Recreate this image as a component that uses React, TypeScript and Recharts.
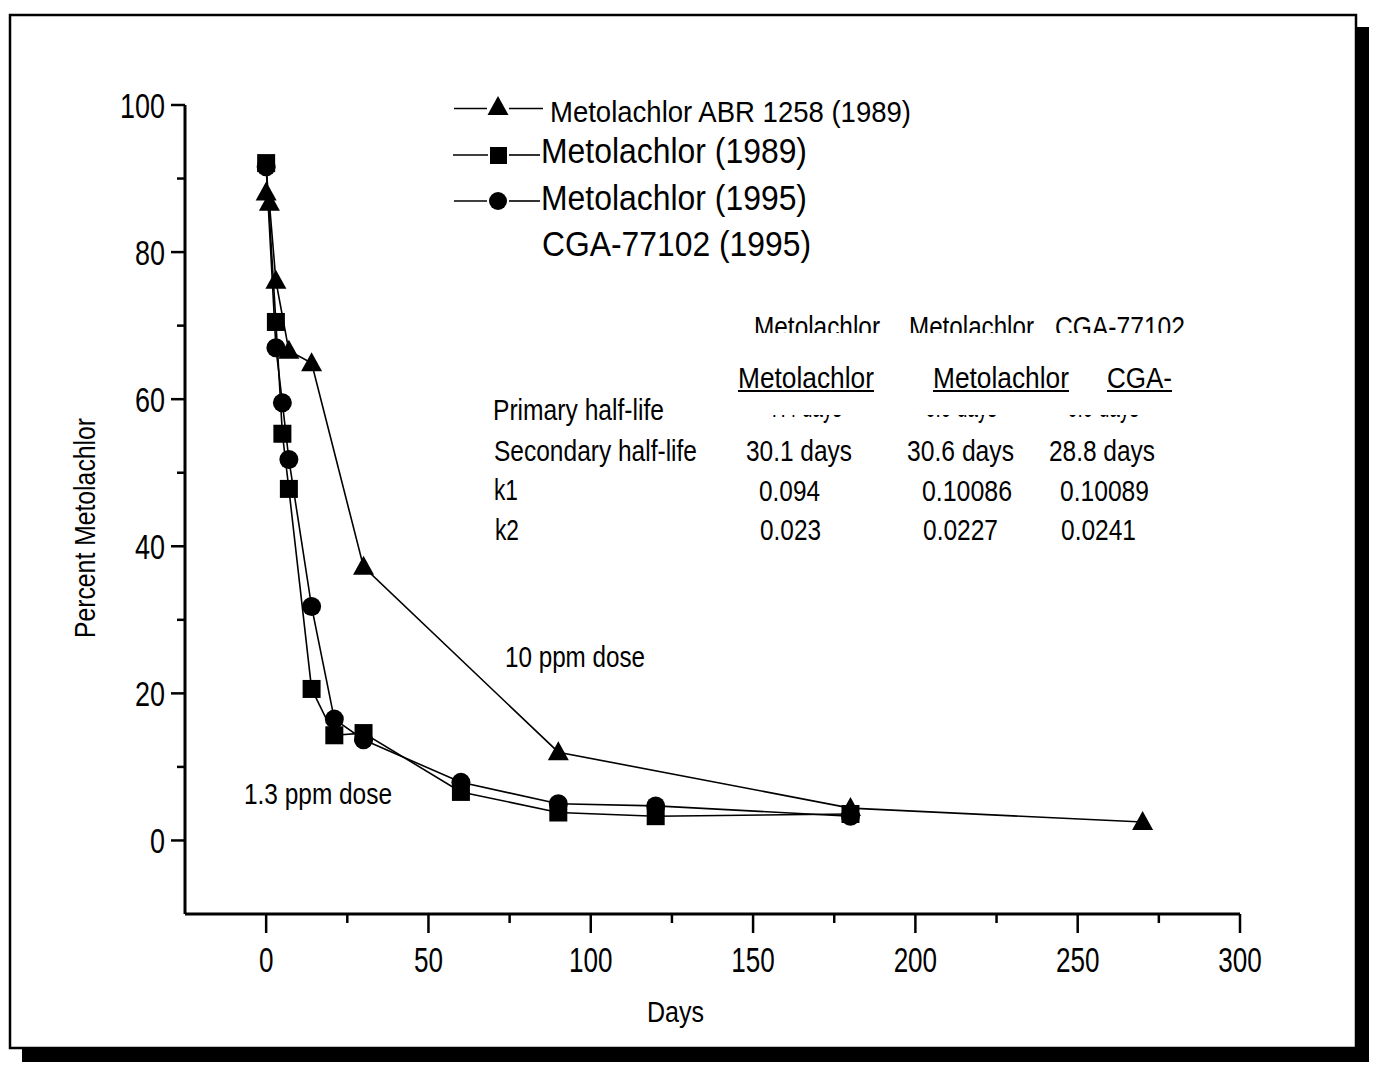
import React from 'react';
import { LineChart, Line, XAxis, YAxis } from 'recharts';

// ---------- data ----------
const abrDays = [0, 1, 3, 7, 14, 30, 90, 180, 270];
const abrPct = [88.1, 86.7, 76.1, 66.6, 64.9, 37.2, 12.0, 4.4, 2.5];

const met89Days = [0, 3, 5, 7, 14, 21, 30, 60, 90, 120, 180];
const met89Pct = [92.1, 70.5, 55.3, 47.8, 20.6, 14.3, 14.6, 6.6, 3.8, 3.3, 3.6];

const met95Days = [0, 3, 5, 7, 14, 21, 30, 60, 90, 120, 180];
const met95Pct = [91.6, 67.0, 59.5, 51.8, 31.8, 16.5, 13.7, 7.9, 5.0, 4.7, 3.3];

const xTicks = [-25, 0, 25, 50, 75, 100, 125, 150, 175, 200, 225, 250, 275, 300];
const yTicks = [-10, 0, 10, 20, 30, 40, 50, 60, 70, 80, 90, 100];

const legendLabels = [
  'Metolachlor ABR 1258 (1989)',
  'Metolachlor (1989)',
  'Metolachlor (1995)',
  'CGA-77102 (1995)',
];
const tableHeaders = ['Metolachlor', 'Metolachlor', 'CGA-77102'];
const tableUnderlined = ['Metolachlor', 'Metolachlor', 'CGA-'];
const rowLabels = ['Primary half-life', 'Secondary half-life', 'k1', 'k2'];
const secondaryHalfLife = ['30.1 days', '30.6 days', '28.8 days'];
const k1Values = ['0.094', '0.10086', '0.10089'];
const k2Values = ['0.023', '0.0227', '0.0241'];

const toPoints = (xs: number[], ys: number[]) => xs.map((x, i) => ({ x, y: ys[i] }));
const abrData = toPoints(abrDays, abrPct);
const met89Data = toPoints(met89Days, met89Pct);
const met95Data = toPoints(met95Days, met95Pct);

const FONT = "'Liberation Sans', Arial, Helvetica, sans-serif";

// ---------- markers ----------
const triPath = (cx: number, cy: number, s = 1) =>
  `M${cx},${cy - 11 * s} L${cx + 10.5 * s},${cy + 8 * s} L${cx - 10.5 * s},${cy + 8 * s} Z`;

const TriDot = (p: any) => {
  if (p.cx == null || p.cy == null) return <g key={p.index} />;
  return <path key={`t${p.index}`} d={triPath(p.cx, p.cy)} fill="#000" />;
};
const SqDot = (p: any) => {
  if (p.cx == null || p.cy == null) return <g key={p.index} />;
  return <rect key={`s${p.index}`} x={p.cx - 9} y={p.cy - 9} width={18} height={18} fill="#000" />;
};
const CircDot = (p: any) => {
  if (p.cx == null || p.cy == null) return <g key={p.index} />;
  return <circle key={`c${p.index}`} cx={p.cx} cy={p.cy} r={9.5} fill="#000" />;
};

// ---------- ticks ----------
const XTick = (props: any) => {
  const { x, y, payload } = props;
  const v = payload.value as number;
  if (v < 0) return <g />;
  const major = v % 50 === 0;
  const label = String(v);
  return (
    <g>
      <line x1={x} y1={y} x2={x} y2={y + (major ? 19 : 9)} stroke="#000" strokeWidth={2.5} />
      {major && (
        <text
          x={x}
          y={y + 45}
          textAnchor="middle"
          dominantBaseline="central"
          fontSize={35}
          fontFamily={FONT}
          textLength={label.length * 14.5}
          lengthAdjust="spacingAndGlyphs"
          fill="#000"
        >
          {label}
        </text>
      )}
    </g>
  );
};

const YTick = (props: any) => {
  const { x, y, payload } = props;
  const v = payload.value as number;
  if (v < 0) return <g />;
  const major = v % 20 === 0;
  const label = String(v);
  return (
    <g>
      <line x1={x - (major ? 14 : 8)} y1={y} x2={x} y2={y} stroke="#000" strokeWidth={2.5} />
      {major && (
        <text
          x={x - 20}
          y={y}
          textAnchor="end"
          dominantBaseline="central"
          fontSize={35}
          fontFamily={FONT}
          textLength={label.length * 15}
          lengthAdjust="spacingAndGlyphs"
          fill="#000"
        >
          {label}
        </text>
      )}
    </g>
  );
};

// ---------- text helper ----------
const T = (p: {
  x: number;
  y: number;
  s: number;
  w: number;
  children: string;
  anchor?: 'start' | 'middle' | 'end';
  rotate?: number;
  underline?: boolean;
}) => (
  <g>
    <text
      x={p.x}
      y={p.y}
      fontSize={p.s}
      fontFamily={FONT}
      textAnchor={p.anchor || 'start'}
      dominantBaseline="central"
      textLength={p.w}
      lengthAdjust="spacingAndGlyphs"
      fill="#000"
      transform={p.rotate ? `rotate(${p.rotate} ${p.x} ${p.y})` : undefined}
    >
      {p.children}
    </text>
    {p.underline && (
      <line x1={p.x} y1={p.y + 13} x2={p.x + p.w} y2={p.y + 13} stroke="#000" strokeWidth={2} />
    )}
  </g>
);

export default function App() {
  return (
    <div style={{ position: 'absolute', left: 0, top: 0, width: 1378, height: 1070, background: '#fff' }}>
      {/* page frame with shadow */}
      <svg width={1378} height={1070} style={{ position: 'absolute', left: 0, top: 0 }}>
        <rect x={10} y={15} width={1346} height={1033} fill="#fff" stroke="#000" strokeWidth={2.5} />
        <rect x={1356} y={27} width={13} height={1035} fill="#000" />
        <rect x={22} y={1048} width={1347} height={14} fill="#000" />
      </svg>

      <div style={{ position: 'absolute', left: 0, top: 0 }}>
        <LineChart
          width={1378}
          height={1070}
          margin={{ top: 105, right: 138, bottom: 96, left: 125 }}
        >
          <XAxis
            type="number"
            dataKey="x"
            domain={[-25, 300]}
            ticks={xTicks}
            interval={0}
            allowDataOverflow
            height={60}
            tickSize={0}
            tickMargin={0}
            tickLine={false}
            axisLine={{ stroke: '#000', strokeWidth: 3 }}
            tick={<XTick />}
          />
          <YAxis
            type="number"
            dataKey="y"
            domain={[-10, 100]}
            ticks={yTicks}
            interval={0}
            allowDataOverflow
            width={60}
            tickSize={0}
            tickMargin={0}
            tickLine={false}
            axisLine={{ stroke: '#000', strokeWidth: 3 }}
            tick={<YTick />}
          />
          <Line
            data={abrData}
            dataKey="y"
            type="linear"
            stroke="#000"
            strokeWidth={1.6}
            dot={TriDot}
            activeDot={false}
            isAnimationActive={false}
          />
          <Line
            data={met89Data}
            dataKey="y"
            type="linear"
            stroke="#000"
            strokeWidth={1.6}
            dot={SqDot}
            activeDot={false}
            isAnimationActive={false}
          />
          <Line
            data={met95Data}
            dataKey="y"
            type="linear"
            stroke="#000"
            strokeWidth={1.6}
            dot={CircDot}
            activeDot={false}
            isAnimationActive={false}
          />
        </LineChart>
      </div>

      {/* annotations, legend, table */}
      <svg width={1378} height={1070} style={{ position: 'absolute', left: 0, top: 0, pointerEvents: 'none' }}>
        <defs>
          <clipPath id="hdrClip">
            <rect x={700} y={300} width={520} height={33} />
          </clipPath>
          <clipPath id="hiddenRowClip">
            <rect x={700} y={415} width={520} height={8} />
          </clipPath>
        </defs>

        {/* legend */}
        <line x1={454} y1={108.5} x2={487} y2={108.5} stroke="#000" strokeWidth={1.6} />
        <path d={triPath(498, 107)} fill="#000" />
        <line x1={509} y1={108.5} x2={543} y2={108.5} stroke="#000" strokeWidth={1.6} />
        <T x={550} y={111} s={30} w={361}>{legendLabels[0]}</T>

        <line x1={453} y1={155} x2={488} y2={155} stroke="#000" strokeWidth={1.6} />
        <rect x={490} y={147} width={17} height={17} fill="#000" />
        <line x1={509} y1={155} x2={540} y2={155} stroke="#000" strokeWidth={1.6} />
        <T x={541} y={150} s={35} w={266}>{legendLabels[1]}</T>

        <line x1={454} y1={201} x2={487} y2={201} stroke="#000" strokeWidth={1.6} />
        <circle cx={498} cy={201} r={9} fill="#000" />
        <line x1={509} y1={201} x2={540} y2={201} stroke="#000" strokeWidth={1.6} />
        <T x={541} y={197} s={35} w={266}>{legendLabels[2]}</T>

        <T x={542} y={243} s={35} w={269}>{legendLabels[3]}</T>

        {/* clipped header row */}
        <g clipPath="url(#hdrClip)">
          <T x={754} y={327} s={29} w={126}>{tableHeaders[0]}</T>
          <T x={909} y={327} s={29} w={125}>{tableHeaders[1]}</T>
          <T x={1055} y={327} s={29} w={130}>{tableHeaders[2]}</T>
        </g>

        {/* underlined headers */}
        <T x={738} y={378} s={29} w={136} underline>{tableUnderlined[0]}</T>
        <T x={933} y={378} s={29} w={136} underline>{tableUnderlined[1]}</T>
        <T x={1107} y={378} s={29} w={65} underline>{tableUnderlined[2]}</T>

        {/* row labels */}
        <T x={493} y={410} s={29} w={171}>{rowLabels[0]}</T>
        <T x={494} y={451} s={29} w={203}>{rowLabels[1]}</T>
        <T x={494} y={490} s={29} w={24}>{rowLabels[2]}</T>
        <T x={495} y={530} s={29} w={24}>{rowLabels[3]}</T>

        {/* hidden primary half-life values (only the bottom edge shows) */}
        <g clipPath="url(#hiddenRowClip)">
          <T x={770} y={407} s={29} w={72}>{'7.4 days'}</T>
          <T x={925} y={407} s={29} w={72}>{'6.9 days'}</T>
          <T x={1067} y={407} s={29} w={72}>{'6.9 days'}</T>
        </g>

        {/* values */}
        <T x={746} y={451} s={29} w={106}>{secondaryHalfLife[0]}</T>
        <T x={907} y={451} s={29} w={107}>{secondaryHalfLife[1]}</T>
        <T x={1049} y={451} s={29} w={106}>{secondaryHalfLife[2]}</T>

        <T x={759} y={490.5} s={29} w={61}>{k1Values[0]}</T>
        <T x={922} y={490.5} s={29} w={90}>{k1Values[1]}</T>
        <T x={1060} y={490.5} s={29} w={89}>{k1Values[2]}</T>

        <T x={760} y={530} s={29} w={61}>{k2Values[0]}</T>
        <T x={923} y={530} s={29} w={75}>{k2Values[1]}</T>
        <T x={1061} y={530} s={29} w={75}>{k2Values[2]}</T>

        {/* dose annotations */}
        <T x={505} y={656} s={30} w={140}>{'10 ppm dose'}</T>
        <T x={244} y={793} s={30} w={148}>{'1.3 ppm dose'}</T>

        {/* axis titles */}
        <T x={647} y={1011} s={30} w={57}>{'Days'}</T>
        <T x={84} y={528} s={30} w={220} anchor="middle" rotate={-90}>{'Percent Metolachlor'}</T>
      </svg>
    </div>
  );
}
